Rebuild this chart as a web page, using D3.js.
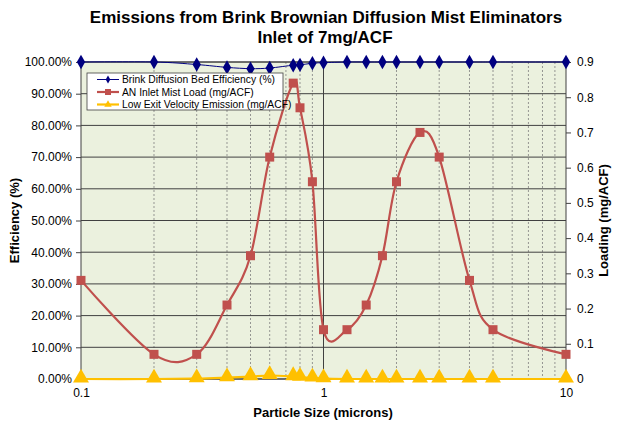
<!DOCTYPE html>
<html>
<head>
<meta charset="utf-8">
<script src="https://cdn.jsdelivr.net/npm/d3@7"></script>
<style>
  body { margin: 0; background: #fff; }
  svg { font-family: "Liberation Sans", Arial, sans-serif; }
</style>
</head>
<body>
<div id="chart"></div>
<script>
const sizes = [0.1, 0.2, 0.3, 0.4, 0.5, 0.6, 0.75, 0.8, 0.9, 1.0, 1.25, 1.5, 1.75, 2.0, 2.5, 3.0, 4.0, 5.0, 10];
const efficiency = [1.0, 1.0, 0.992, 0.983, 0.979, 0.981, 0.99, 0.991, 0.996, 0.998, 1.0, 1.0, 1.0, 1.0, 1.0, 1.0, 1.0, 1.0, 1.0];
const inletLoad = [0.28, 0.07, 0.07, 0.21, 0.35, 0.63, 0.84, 0.77, 0.56, 0.14, 0.14, 0.21, 0.35, 0.56, 0.70, 0.63, 0.28, 0.14, 0.07];
const exitEmission = [0, 0, 0.001, 0.004, 0.007, 0.01, 0.007, 0.005, 0.003, 0.001, 0, 0, 0, 0, 0, 0, 0, 0, 0];
const leftTicks = d3.range(0, 1.0001, 0.1);
const rightTicks = d3.range(0, 0.9001, 0.1);
const seriesNames = ["Brink Diffusion Bed Efficiency (%)", "AN Inlet Mist Load (mg/ACF)", "Low Exit Velocity Emission (mg/ACF)"];

const W = 617, H = 424;
const plot = { left: 81, right: 566, top: 62, bottom: 379 };

const svg = d3.select("#chart").append("svg")
    .attr("width", W).attr("height", H);

const x = d3.scaleLog().domain([0.1, 10]).range([plot.left, plot.right]);
const yL = d3.scaleLinear().domain([0, 1]).range([plot.bottom, plot.top]);
const yR = d3.scaleLinear().domain([0, 0.9]).range([plot.bottom, plot.top]);

// plot background
svg.append("rect")
    .attr("x", plot.left).attr("y", plot.top)
    .attr("width", plot.right - plot.left).attr("height", plot.bottom - plot.top)
    .attr("fill", "#ebf1de");

// minor vertical gridlines (dashed)
const minors = [];
[0.1, 1].forEach(d => { for (let k = 2; k <= 9; k++) minors.push(d * k); });
svg.append("g").selectAll("line")
    .data(minors)
    .join("line")
    .attr("x1", d => x(d)).attr("x2", d => x(d))
    .attr("y1", plot.top).attr("y2", plot.bottom)
    .attr("stroke", "#7f7f7f").attr("stroke-width", 0.8)
    .attr("stroke-dasharray", "2,2");

// major vertical gridline
svg.append("g").selectAll("line")
    .data([1])
    .join("line")
    .attr("x1", d => x(d)).attr("x2", d => x(d))
    .attr("y1", plot.top).attr("y2", plot.bottom)
    .attr("stroke", "#404040").attr("stroke-width", 1);

// horizontal gridlines
svg.append("g").selectAll("line")
    .data(leftTicks)
    .join("line")
    .attr("x1", plot.left).attr("x2", plot.right)
    .attr("y1", d => yL(d)).attr("y2", d => yL(d))
    .attr("stroke", "#404040").attr("stroke-width", 1);

// plot border
svg.append("rect")
    .attr("x", plot.left).attr("y", plot.top)
    .attr("width", plot.right - plot.left).attr("height", plot.bottom - plot.top)
    .attr("fill", "none").attr("stroke", "#404040").attr("stroke-width", 1);

// axes
const leftAxis = svg.append("g")
    .attr("transform", `translate(${plot.left},0)`)
    .call(d3.axisLeft(yL).tickValues(leftTicks).tickFormat(d3.format(".2%")).tickSize(5).tickPadding(4));
const rightAxis = svg.append("g")
    .attr("transform", `translate(${plot.right},0)`)
    .call(d3.axisRight(yR).tickValues(rightTicks).tickFormat(d => d === 0 ? "0" : d3.format(".1f")(d)).tickSize(5).tickPadding(6));
const bottomAxis = svg.append("g")
    .attr("transform", `translate(0,${plot.bottom})`)
    .call(d3.axisBottom(x).tickValues([0.1, 1, 10]).tickFormat(d => String(d)).tickSize(0).tickPadding(9));

[leftAxis, rightAxis, bottomAxis].forEach(a => {
    a.select(".domain").remove();
    a.selectAll("line").attr("stroke", "#404040");
    a.selectAll("text").attr("fill", "#000").style("font-size", "12px")
        .style("font-family", "'Liberation Sans', Arial, sans-serif");
});

// series
const pts = (ys) => sizes.map((s, i) => [s, ys[i]]);
const curve = d3.curveCatmullRom.alpha(0);

const lineL = d3.line().x(d => x(d[0])).y(d => yL(d[1])).curve(curve);
const lineR = d3.line().x(d => x(d[0])).y(d => yR(d[1])).curve(curve);

// blue efficiency
svg.append("path")
    .attr("d", lineL(pts(efficiency)))
    .attr("fill", "none").attr("stroke", "#000080").attr("stroke-width", 1);
svg.append("g").selectAll("path")
    .data(pts(efficiency))
    .join("path")
    .attr("transform", d => `translate(${x(d[0])},${yL(d[1])})`)
    .attr("d", d3.symbol(d3.symbolDiamond, 60)())
    .attr("fill", "#000080");

// red inlet load
svg.append("path")
    .attr("d", lineR(pts(inletLoad)))
    .attr("fill", "none").attr("stroke", "#c0504d").attr("stroke-width", 2.2);
svg.append("g").selectAll("rect")
    .data(pts(inletLoad))
    .join("rect")
    .attr("x", d => x(d[0]) - 4.5).attr("y", d => yR(d[1]) - 4.5)
    .attr("width", 9).attr("height", 9)
    .attr("fill", "#c0504d");

// yellow exit emission
svg.append("path")
    .attr("d", lineR(pts(exitEmission)))
    .attr("fill", "none").attr("stroke", "#ffc000").attr("stroke-width", 2.2);
svg.append("g").selectAll("path")
    .data(pts(exitEmission))
    .join("path")
    .attr("transform", d => `translate(${x(d[0])},${yR(d[1]) - 1})`)
    .attr("d", d3.symbol(d3.symbolTriangle, 110)())
    .attr("fill", "#ffc000");

// legend
const lg = svg.append("g").attr("transform", "translate(87,73)");
lg.append("rect").attr("width", 196).attr("height", 37)
    .attr("fill", "#fff").attr("stroke", "#404040").attr("stroke-width", 0.8);
const legendStyles = [
    { color: "#000080", w: 1, mark: "diamond" },
    { color: "#c0504d", w: 2.2, mark: "square" },
    { color: "#ffc000", w: 2.2, mark: "triangle" }
];
seriesNames.forEach((name, i) => {
    const yy = 6.5 + i * 12.5;
    const st = legendStyles[i];
    lg.append("line").attr("x1", 10).attr("x2", 32).attr("y1", yy).attr("y2", yy)
        .attr("stroke", st.color).attr("stroke-width", st.w);
    if (st.mark === "diamond") {
        lg.append("path").attr("transform", `translate(21,${yy})`)
            .attr("d", d3.symbol(d3.symbolDiamond, 18)()).attr("fill", st.color);
    } else if (st.mark === "square") {
        lg.append("rect").attr("x", 18).attr("y", yy - 3).attr("width", 6).attr("height", 6).attr("fill", st.color);
    } else {
        lg.append("path").attr("transform", `translate(21,${yy})`)
            .attr("d", d3.symbol(d3.symbolTriangle, 24)()).attr("fill", st.color);
    }
    lg.append("text").attr("x", 35).attr("y", yy).attr("dy", "0.35em")
        .style("font-size", "10.3px").text(name);
});

// titles
svg.append("text").attr("x", 326).attr("y", 23).attr("text-anchor", "middle")
    .style("font-size", "17px").style("font-weight", "bold")
    .text("Emissions from Brink Brownian Diffusion Mist Eliminators");
svg.append("text").attr("x", 325).attr("y", 43).attr("text-anchor", "middle")
    .style("font-size", "17px").style("font-weight", "bold")
    .text("Inlet of 7mg/ACF");

svg.append("text").attr("x", 323).attr("y", 417).attr("text-anchor", "middle")
    .style("font-size", "13px").style("font-weight", "bold")
    .text("Particle Size (microns)");
svg.append("text").attr("transform", `translate(19,${(plot.top + plot.bottom) / 2}) rotate(-90)`)
    .attr("text-anchor", "middle")
    .style("font-size", "13px").style("font-weight", "bold")
    .text("Efficiency (%)");
svg.append("text").attr("transform", `translate(608,${(plot.top + plot.bottom) / 2}) rotate(-90)`)
    .attr("text-anchor", "middle")
    .style("font-size", "13px").style("font-weight", "bold")
    .text("Loading (mg/ACF)");
</script>
</body>
</html>
